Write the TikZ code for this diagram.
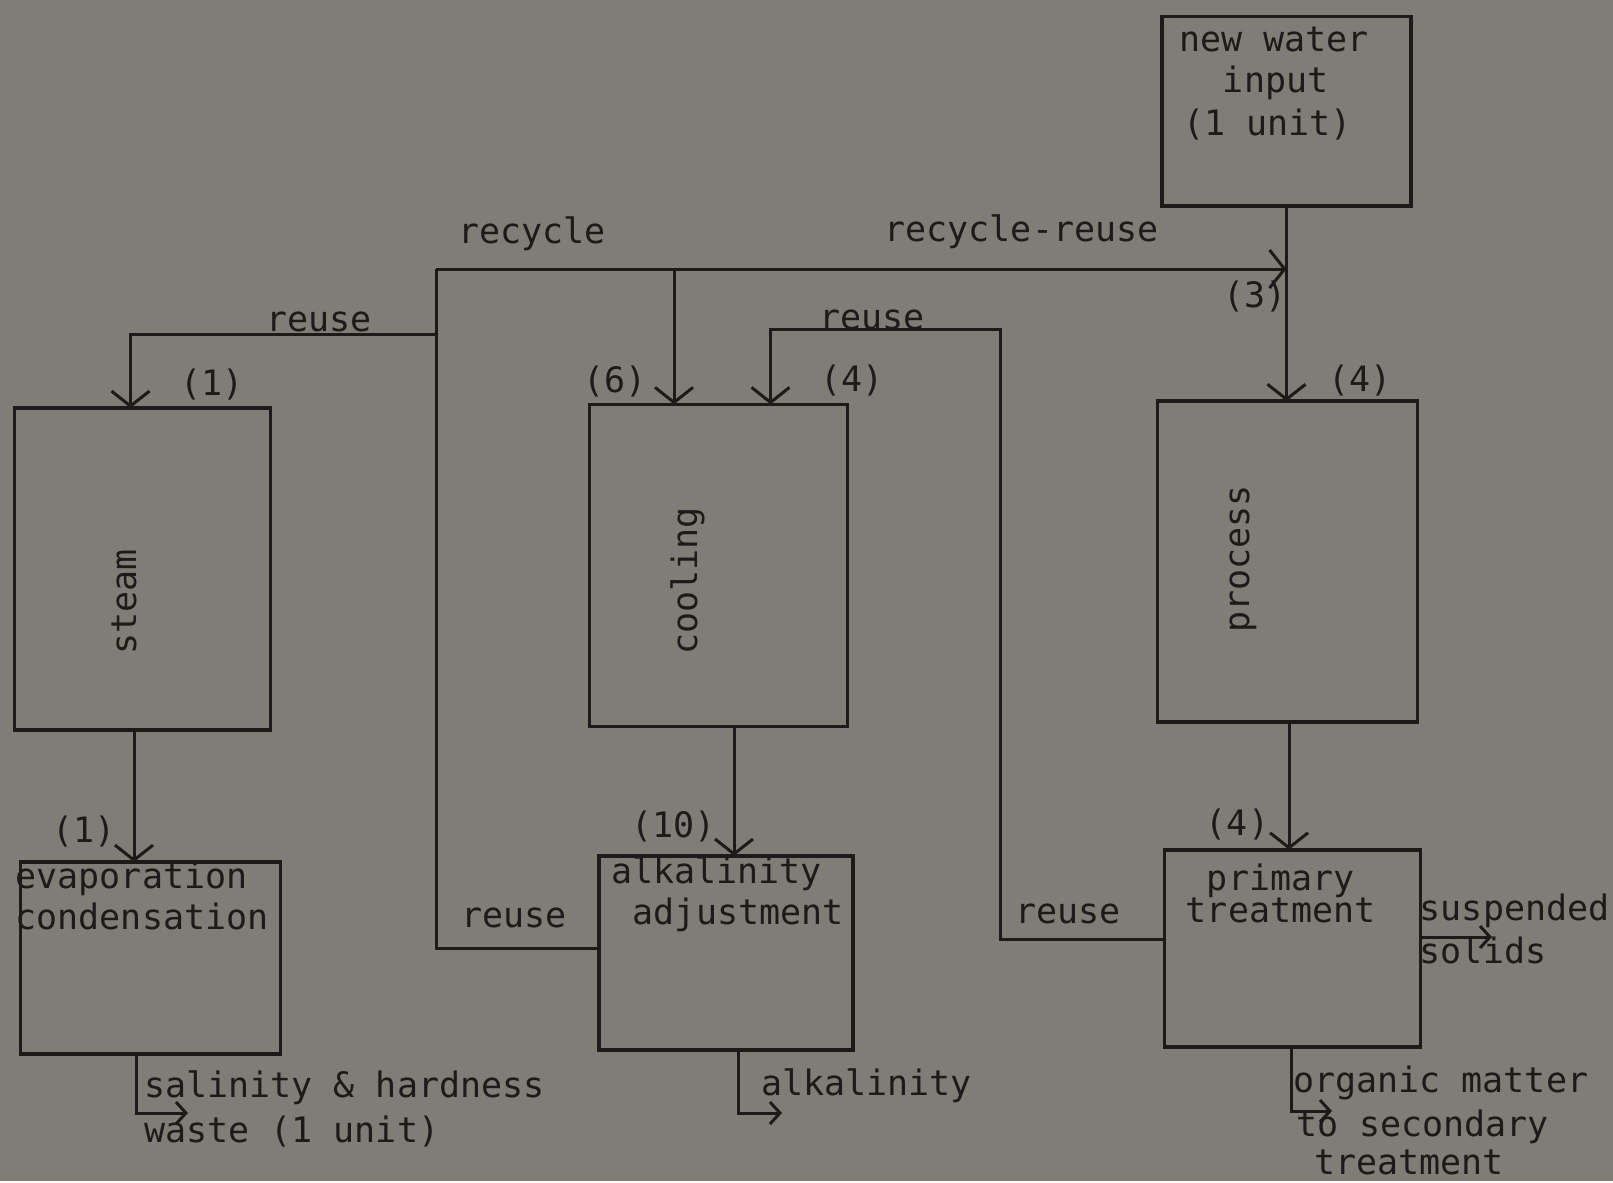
\documentclass[tikz,border=0pt]{standalone}
\usepackage{fontspec}
\newfontfamily\tw{DejaVu Sans Mono}
\usetikzlibrary{arrows.meta,calc}
\definecolor{bg}{RGB}{128,124,118}
\definecolor{ink}{RGB}{28,27,26}
\begin{document}
\begin{tikzpicture}[x=1pt,y=-1pt,
  box/.style={draw=ink,line width=3.6pt,inner sep=0pt,outer sep=0pt,anchor=north west},
  wire/.style={draw=ink,line width=3pt},
  arr/.style={wire,-{Straight Barb[length=15pt,width=38pt]}},
  sarr/.style={wire,-{Straight Barb[length=10pt,width=22pt]}},
  lbl/.style={text=ink,font=\tw\fontsize{35}{41}\selectfont,inner sep=0pt,text height=26pt,text depth=8pt},
  lblw/.style={lbl,anchor=west},
]
\fill[bg] (0,0) rectangle (1613,1181);
% boxes
\node[box,minimum width=249pt,minimum height=189.5pt] (nw) at (1162,16.5) {};
\node[box,minimum width=256pt,minimum height=322pt] (steam) at (14.4,408) {};
\node[box,minimum width=258pt,minimum height=322pt] (cool) at (589.4,404.3) {};
\node[box,minimum width=260pt,minimum height=321pt] (proc) at (1157.3,401.2) {};
\node[box,minimum width=260pt,minimum height=192pt] (evap) at (20.6,862) {};
\node[box,minimum width=254pt,minimum height=194pt] (alk) at (598.7,855.9) {};
\node[box,minimum width=256pt,minimum height=197.5pt] (prim) at (1164.5,849.7) {};
% junction coordinates
\coordinate (J) at (436,269);
\coordinate (J2) at (674,269);
\coordinate (R1) at (436,334);
% connectors
\draw[arr] (nw.south) -- (nw.south |- proc.north);
\draw[arr] (J) -- (J -| nw.south);
\draw[wire] (J) -- (J |- 0,948) -- (alk.west |- 0,948);
\draw[arr] (R1) -| (130.5,0 |- steam.north);
\draw[arr] (J2) -- (J2 |- cool.north);
\draw[arr] (prim.west |- 0,939) -- (1000,939) -- (1000,329) -- (770.5,329) -- (770.5,0 |- cool.north);
\draw[arr] (134,0 |- steam.south) -- (134,0 |- evap.north);
\draw[arr] (734,0 |- cool.south) -- (734,0 |- alk.north);
\draw[arr] (1289,0 |- proc.south) -- (1289,0 |- prim.north);
\draw[sarr] (136,0 |- evap.south) -- (136,1113) -- (188,1113);
\draw[sarr] (738,0 |- alk.south) -- (738,1113) -- (782,1113);
\draw[sarr] (prim.east |- 0,937) -- (1492,937);
\draw[sarr] (1291,0 |- prim.south) -- (1291,1111) -- (1332,1111);
% texts
\node[lblw] (t1) at (1179,43) {new water};
\node[lbl] (t2) at (1275.6,84) {input};
\node[lblw] (t3) at (1183,126.5) {(1 unit)};
\node[lbl] (t4) at (532,234.5) {recycle};
\node[lbl] (t5) at (1021.5,232.5) {recycle-reuse};
\node[lbl] (t6) at (319,322) {reuse};
\node[lbl] (t7) at (212,386.8) {(1)};
\node[lbl] (t8) at (615,383.7) {(6)};
\node[lbl] (t9) at (851.8,382.7) {(4)};
\node[lbl] (t10) at (872.3,320) {reuse};
\node[lbl] (t11) at (1255,298) {(3)};
\node[lbl] (t12) at (1360,382.7) {(4)};
\node[lbl,rotate=90] (t13) at (127,602) {steam};
\node[lbl,rotate=90] (t14) at (688,581) {cooling};
\node[lbl,rotate=90] (t15) at (1240,559) {process};
\node[lbl] (t16) at (84.4,833) {(1)};
\node[lbl] (t17) at (673.8,828) {(10)};
\node[lbl] (t18) at (1237.5,826) {(4)};
\node[lblw] (t19) at (15.4,879.5) {evaporation};
\node[lblw] (t20) at (15.4,920.7) {condensation};
\node[lbl] (t21) at (514,918.6) {reuse};
\node[lblw] (t22) at (611,874) {alkalinity};
\node[lblw] (t23) at (632.6,915.6) {adjustment};
\node[lbl] (t24) at (1068,914.5) {reuse};
\node[lbl] (t25) at (1280.7,881.6) {primary};
\node[lbl] (t26) at (1280.7,913.5) {treatment};
\node[lblw] (t27) at (1419.6,911.4) {suspended};
\node[lblw] (t28) at (1419.6,954.6) {solids};
\node[lblw] (t29) at (144,1088.4) {salinity \& hardness};
\node[lblw] (t30) at (144,1133.6) {waste (1 unit)};
\node[lblw] (t31) at (761,1086.3) {alkalinity};
\node[lblw] (t32) at (1293,1083) {organic matter};
\node[lblw] (t33) at (1296,1127.5) {to secondary};
\node[lbl] (t34) at (1409,1165.5) {treatment};
\end{tikzpicture}
\end{document}
